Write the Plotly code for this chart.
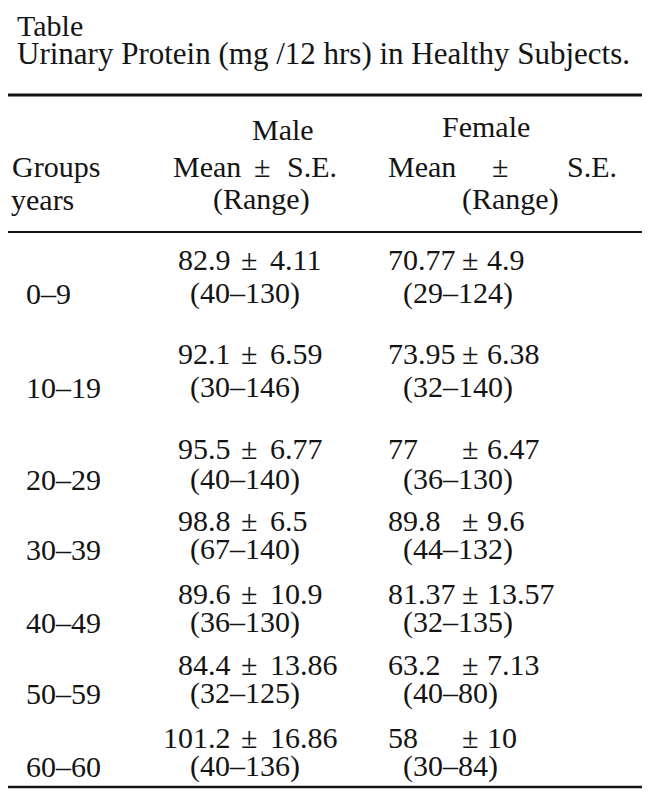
import plotly.graph_objects as go

# table values
groups = ["0–9", "10–19", "20–29", "30–39", "40–49", "50–59", "60–60"]

male_mean = [82.9, 92.1, 95.5, 98.8, 89.6, 84.4, 101.2]
male_se = [4.11, 6.59, 6.77, 6.5, 10.9, 13.86, 16.86]
male_low = [40, 30, 40, 67, 36, 32, 40]
male_high = [130, 146, 140, 140, 130, 125, 136]

female_mean = [70.77, 73.95, 77, 89.8, 81.37, 63.2, 58]
female_se = [4.9, 6.38, 6.47, 9.6, 13.57, 7.13, 10]
female_low = [29, 32, 36, 44, 32, 40, 30]
female_high = [124, 140, 130, 132, 135, 80, 84]

title_top = "Table"
title_main = "Urinary Protein (mg /12 hrs) in Healthy Subjects."

# layout (pixel-like axis units, y grows downward)
# the page body has an 8px margin, so the figure starts at (8, 8)
PAGE_W, PAGE_H, OFF = 650, 805, 8
FONT = "Liberation Serif"
SIZE = 30
INK = "#141414"
first_row = 259
row_pitch = [94, 95, 72, 73, 71, 73]
range_gap = [34, 34, 31, 29, 29, 29, 29]

fig = go.Figure()
fig.add_trace(go.Scatter(x=[], y=[], mode="markers", showlegend=False, hoverinfo="skip"))


def txt(x, y, s, anchor="left", size=SIZE):
    fig.add_annotation(
        x=x, y=y, text=s, xref="x", yref="y", showarrow=False,
        xanchor=anchor, yanchor="middle", borderpad=0, borderwidth=0,
        font=dict(family=FONT, size=size, color=INK),
    )


def fmt(v):
    return f"{v:g}"


# title
txt(17, 25, title_top)
txt(17, 53, title_main, size=31)

# header
txt(252, 129, "Male")
txt(442, 126, "Female")
txt(12, 166, "Groups")
txt(11, 199, "years")
txt(173, 166, "Mean")
txt(262, 166, "±", "center")
txt(287, 166, "S.E.")
txt(213, 199, "(Range)")
txt(388, 166, "Mean")
txt(500, 166, "±", "center")
txt(567, 166, "S.E.")
txt(462, 199, "(Range)")

# body rows
y = first_row
for i, g in enumerate(groups):
    y2 = y + range_gap[i]
    txt(26, y2, g)
    txt(231, y, fmt(male_mean[i]), "right")
    txt(249, y, "±", "center")
    txt(270, y, fmt(male_se[i]))
    txt(190, y2, f"({male_low[i]}–{male_high[i]})")
    txt(388, y, fmt(female_mean[i]))
    txt(470, y, "±", "center")
    txt(487, y, fmt(female_se[i]))
    txt(403, y2, f"({female_low[i]}–{female_high[i]})")
    if i < len(row_pitch):
        y += row_pitch[i]

# horizontal rules
for ry, lw in [(95, 3), (232, 2), (787, 2.5)]:
    fig.add_shape(type="line", xref="paper", yref="y", x0=0, x1=1, y0=ry, y1=ry,
                  line=dict(color=INK, width=lw))

fig.update_layout(
    width=PAGE_W - OFF, height=PAGE_H - OFF,
    margin=dict(l=0, r=0, t=0, b=0),
    paper_bgcolor="white", plot_bgcolor="white",
    xaxis=dict(range=[OFF, PAGE_W], visible=False, fixedrange=True),
    yaxis=dict(range=[PAGE_H, OFF], visible=False, fixedrange=True),
    showlegend=False,
)

fig.write_html("out.html")
